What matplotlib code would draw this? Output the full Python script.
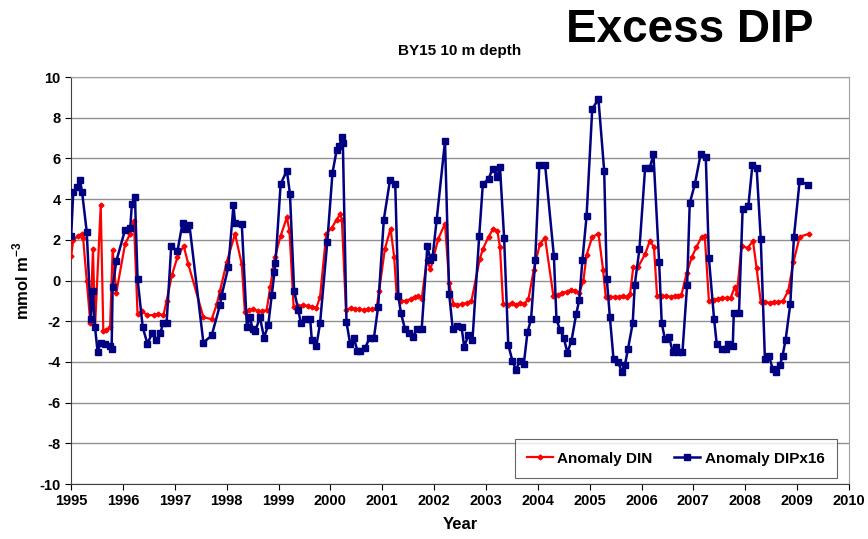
import matplotlib
matplotlib.use("Agg")
import matplotlib.pyplot as plt

plt.rcParams["font.family"] = ["Liberation Sans", "DejaVu Sans"]
plt.rcParams["axes.unicode_minus"] = False
plt.rcParams["mathtext.default"] = "bf"

# Anomaly DIN (red) - decimal year, mmol m-3
din_t = [1995.00, 1995.04, 1995.14, 1995.21, 1995.23, 1995.30, 1995.37, 1995.42, 1995.46, 1995.57,
         1995.62, 1995.67, 1995.75, 1995.80, 1995.87, 1996.04, 1996.14, 1996.21, 1996.28, 1996.36,
         1996.47, 1996.59, 1996.68, 1996.78, 1996.84, 1996.94, 1997.05, 1997.17, 1997.26, 1997.55,
         1997.71, 1997.81, 1997.87, 1998.00, 1998.16, 1998.29, 1998.35, 1998.43, 1998.51, 1998.60,
         1998.68, 1998.77, 1998.84, 1998.89, 1998.93, 1999.04, 1999.16, 1999.21, 1999.29, 1999.38,
         1999.47, 1999.56, 1999.65, 1999.73, 1999.80, 1999.92, 2000.03, 2000.12, 2000.19, 2000.22,
         2000.30, 2000.39, 2000.48, 2000.56, 2000.65, 2000.73, 2000.81, 2000.89, 2000.94, 2001.05,
         2001.16, 2001.23, 2001.28, 2001.37, 2001.46, 2001.55, 2001.63, 2001.69, 2001.76, 2001.86,
         2001.93, 2002.08, 2002.21, 2002.29, 2002.37, 2002.45, 2002.54, 2002.63, 2002.72, 2002.88,
         2002.94, 2003.05, 2003.14, 2003.22, 2003.27, 2003.33, 2003.42, 2003.50, 2003.58, 2003.66,
         2003.74, 2003.82, 2003.92, 2004.04, 2004.14, 2004.30, 2004.39, 2004.47, 2004.56, 2004.64,
         2004.72, 2004.80, 2004.88, 2004.94, 2005.05, 2005.17, 2005.26, 2005.31, 2005.40, 2005.48,
         2005.57, 2005.65, 2005.72, 2005.78, 2005.84, 2005.93, 2006.07, 2006.16, 2006.24, 2006.30,
         2006.39, 2006.48, 2006.56, 2006.64, 2006.71, 2006.77, 2006.87, 2006.97, 2007.06, 2007.16,
         2007.22, 2007.30, 2007.39, 2007.48, 2007.56, 2007.64, 2007.72, 2007.80, 2007.84, 2007.93,
         2008.05, 2008.15, 2008.22, 2008.30, 2008.39, 2008.47, 2008.56, 2008.64, 2008.73, 2008.83,
         2008.93, 2009.05, 2009.23]
din_v = [1.2, 2.0, 2.2, 2.3, 2.1, 0.0, -2.1, 1.55, -2.3, 3.7,
         -2.5, -2.45, -2.3, 1.5, -0.6, 1.8, 2.3, 2.95, -1.65, -1.5,
         -1.7, -1.7, -1.65, -1.7, -1.0, 0.25, 1.15, 1.7, 0.8, -1.8,
         -1.9, -1.15, -0.5, 0.9, 2.3, 0.8, -1.55, -1.45, -1.4, -1.5,
         -1.5, -1.45, -0.3, 0.55, 1.15, 2.2, 3.1, 2.45, -1.3, -1.25,
         -1.2, -1.25, -1.3, -1.35, -0.8, 2.3, 2.6, 3.0, 3.25, 3.0,
         -1.45, -1.35, -1.4, -1.4, -1.45, -1.4, -1.4, -1.35, -0.5, 1.55,
         2.55, 1.15, -0.8, -1.0, -1.0, -0.9, -0.8, -0.75, -0.9, 1.0,
         0.55, 2.05, 2.8, -0.1, -1.15, -1.2, -1.15, -1.1, -1.0, 1.05,
         1.55, 2.15, 2.55, 2.45, 1.65, -1.15, -1.2, -1.1, -1.2, -1.1,
         -1.15, -0.9, 0.5, 1.8, 2.1, -0.75, -0.7, -0.6, -0.55, -0.45,
         -0.5, -0.6, 0.0, 1.25, 2.15, 2.3, 0.5, -0.8, -0.8, -0.8,
         -0.8, -0.75, -0.8, -0.65, 0.65, 0.65, 1.3, 1.95, 1.65, -0.75,
         -0.75, -0.75, -0.8, -0.75, -0.75, -0.7, 0.35, 1.15, 1.65, 2.15,
         2.2, -1.0, -0.95, -0.9, -0.85, -0.85, -0.85, -0.3, -0.65, 1.7,
         1.6, 1.95, 0.6, -1.05, -1.05, -1.1, -1.05, -1.05, -1.0, -0.5,
         0.9, 2.15, 2.3]

# Anomaly DIPx16 (navy)
dip_t = [1995.00, 1995.04, 1995.12, 1995.17, 1995.21, 1995.30, 1995.38, 1995.42, 1995.46, 1995.51,
         1995.57, 1995.66, 1995.74, 1995.78, 1995.80, 1995.87, 1996.04, 1996.14, 1996.17, 1996.23,
         1996.28, 1996.38, 1996.47, 1996.56, 1996.64, 1996.72, 1996.77, 1996.84, 1996.93, 1997.05,
         1997.15, 1997.20, 1997.28, 1997.55, 1997.71, 1997.87, 1997.90, 1998.03, 1998.13, 1998.16,
         1998.29, 1998.39, 1998.45, 1998.50, 1998.55, 1998.64, 1998.72, 1998.80, 1998.87, 1998.92,
         1998.94, 1999.04, 1999.16, 1999.22, 1999.30, 1999.38, 1999.43, 1999.51, 1999.61, 1999.64,
         1999.73, 1999.80, 1999.94, 2000.04, 2000.12, 2000.17, 2000.22, 2000.24, 2000.31, 2000.38,
         2000.45, 2000.52, 2000.58, 2000.67, 2000.76, 2000.84, 2000.92, 2001.03, 2001.15, 2001.25,
         2001.31, 2001.36, 2001.44, 2001.52, 2001.59, 2001.67, 2001.76, 2001.87, 2001.93, 2001.97,
         2002.05, 2002.21, 2002.29, 2002.36, 2002.45, 2002.53, 2002.58, 2002.66, 2002.74, 2002.87,
         2002.94, 2003.05, 2003.13, 2003.22, 2003.27, 2003.35, 2003.43, 2003.51, 2003.58, 2003.65,
         2003.73, 2003.80, 2003.87, 2003.95, 2004.03, 2004.14, 2004.31, 2004.36, 2004.43, 2004.50,
         2004.57, 2004.65, 2004.74, 2004.80, 2004.86, 2004.94, 2005.05, 2005.17, 2005.28, 2005.33,
         2005.39, 2005.46, 2005.55, 2005.62, 2005.68, 2005.74, 2005.83, 2005.87, 2005.96, 2006.07,
         2006.16, 2006.23, 2006.34, 2006.39, 2006.45, 2006.53, 2006.60, 2006.66, 2006.71, 2006.79,
         2006.88, 2006.93, 2007.03, 2007.14, 2007.24, 2007.30, 2007.40, 2007.45, 2007.55, 2007.63,
         2007.67, 2007.76, 2007.78, 2007.88, 2007.95, 2008.06, 2008.14, 2008.22, 2008.30, 2008.38,
         2008.46, 2008.53, 2008.59, 2008.67, 2008.72, 2008.78, 2008.87, 2008.94, 2009.05, 2009.21]
dip_v = [2.2, 4.35, 4.6, 4.95, 4.35, 2.4, -1.9, -0.5, -2.3, -3.5,
         -3.05, -3.1, -3.2, -3.35, -0.3, 0.95, 2.5, 2.6, 3.75, 4.1,
         0.1, -2.3, -3.1, -2.6, -2.9, -2.6, -2.1, -2.1, 1.7, 1.45,
         2.85, 2.55, 2.75, -3.05, -2.7, -1.2, -0.75, 0.65, 3.7, 2.85,
         2.8, -2.3, -1.8, -2.4, -2.5, -1.8, -2.8, -2.2, -0.7, 0.4,
         0.85, 4.75, 5.4, 4.25, -0.5, -1.45, -2.1, -1.9, -1.9, -2.9,
         -3.2, -2.1, 1.9, 5.3, 6.4, 6.6, 7.05, 6.75, -2.05, -3.1,
         -2.8, -3.45, -3.45, -3.3, -2.8, -2.8, -1.3, 3.0, 4.95, 4.75,
         -0.75, -1.6, -2.4, -2.6, -2.75, -2.4, -2.4, 1.7, 1.0, 1.15,
         3.0, 6.85, -0.65, -2.4, -2.25, -2.3, -3.25, -2.7, -2.9, 2.2,
         4.75, 5.0, 5.5, 5.1, 5.6, 2.1, -3.15, -3.95, -4.4, -3.95,
         -4.1, -2.55, -1.9, 1.0, 5.7, 5.7, 1.2, -1.9, -2.45, -2.8,
         -3.55, -2.95, -1.65, -0.95, 1.0, 3.15, 8.45, 8.9, 5.4, 0.1,
         -1.8, -3.85, -4.0, -4.5, -4.15, -3.35, -2.1, -0.2, 1.55, 5.55,
         5.55, 6.2, 0.9, -2.1, -2.85, -2.75, -3.5, -3.25, -3.5, -3.5,
         -0.2, 3.8, 4.75, 6.2, 6.05, 1.1, -1.9, -3.1, -3.35, -3.35,
         -3.1, -3.2, -1.6, -1.6, 3.5, 3.65, 5.7, 5.55, 2.05, -3.85,
         -3.7, -4.35, -4.5, -4.15, -3.7, -2.9, -1.15, 2.15, 4.9, 4.7]

years = list(range(1995, 2011))
yticks = list(range(-10, 11, 2))

fig = plt.figure(figsize=(8.68, 5.39), dpi=100)
ax = fig.add_axes([0.082, 0.102, 0.896, 0.755])

ax.plot(din_t, din_v, color="#ff0000", lw=1.6, marker="D", ms=2.5, label="Anomaly DIN", zorder=3)
ax.plot(dip_t, dip_v, color="#000080", lw=1.8, marker="s", ms=5, label="Anomaly DIPx16", zorder=4)

ax.set_xlim(1995, 2010)
ax.set_ylim(-10, 10)
ax.set_xticks(years)
ax.set_yticks(yticks)
ax.tick_params(labelsize=10.5, direction="out", length=4, width=0.8)
for lab in ax.get_xticklabels() + ax.get_yticklabels():
    lab.set_fontweight("bold")
ax.grid(axis="y", color="#909090", lw=1.0)
ax.set_axisbelow(True)
for s in ["top", "right"]:
    ax.spines[s].set_color("#a0a0a0")
for s in ["left", "bottom"]:
    ax.spines[s].set_color("#404040")

ax.set_xlabel("Year", fontsize=12, fontweight="bold", labelpad=6)
ax.set_ylabel("mmol m$^{\\mathregular{-3}}$", fontsize=12, fontweight="bold", labelpad=6)
ax.set_title("BY15 10 m depth", fontsize=11, fontweight="bold", pad=16)

leg = ax.legend(loc="lower right", ncol=2, fontsize=11, frameon=True, fancybox=False,
                handlelength=1.7, handletextpad=0.3, columnspacing=1.4, borderpad=0.8,
                borderaxespad=0.4, bbox_to_anchor=(0.992, 0.0))
leg.get_frame().set_edgecolor("#404040")
leg.get_frame().set_linewidth(0.8)
for t in leg.get_texts():
    t.set_fontweight("bold")

fig.text(0.795, 0.945, "Excess DIP", fontsize=33, fontweight="bold", ha="center", va="center")

fig.savefig("out.png", dpi=100)
